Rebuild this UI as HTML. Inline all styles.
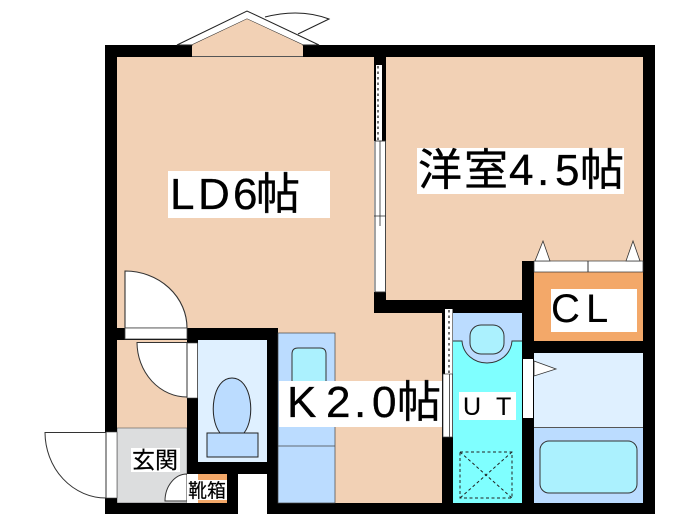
<!DOCTYPE html>
<html><head><meta charset="utf-8"><style>
html,body{margin:0;padding:0;background:#fff}
svg{display:block;filter:blur(.35px)}
text{font-family:"Liberation Sans","Noto Sans CJK JP",sans-serif;fill:#000;stroke:#000;stroke-width:.35}
</style></head><body>
<svg width="700" height="525" viewBox="0 0 700 525" xmlns="http://www.w3.org/2000/svg">
<rect width="700" height="525" fill="#fff"/>
<!-- floors -->
<rect x="117" y="57" width="257" height="271" fill="#f2d1b5"/>
<rect x="386" y="57" width="257" height="243" fill="#f2d1b5"/>
<rect x="187" y="300" width="255" height="203" fill="#f2d1b5"/>
<rect x="117" y="328" width="70" height="100" fill="#f2d1b5"/>
<rect x="117" y="428" width="70" height="75" fill="#dcddde" stroke="#555" stroke-width=".6"/>
<!-- walls -->
<g fill="#000">
<rect x="105" y="45" width="550" height="12"/>
<rect x="105" y="45" width="12" height="469"/>
<rect x="643" y="45" width="12" height="469"/>
<rect x="105" y="503" width="133" height="11"/>
<rect x="267" y="503" width="388" height="11"/>
<rect x="374" y="45" width="12" height="96"/>
<rect x="374" y="292" width="12" height="21"/>
<rect x="374" y="300" width="160" height="13"/>
<rect x="442" y="300" width="11" height="214"/>
<rect x="522" y="261" width="12" height="253"/>
<rect x="534" y="341" width="110" height="12"/>
<rect x="105" y="328" width="173" height="12"/>
<rect x="187" y="328" width="11" height="146"/>
<rect x="267" y="328" width="11" height="186"/>
<rect x="187" y="462" width="80" height="12"/>
<rect x="227" y="462" width="11" height="52"/>
</g>
<rect x="238" y="474" width="29" height="40" fill="#fff"/>
<!-- bay window -->
<rect x="192" y="45" width="111" height="12" fill="#f2d1b5"/>
<path d="M298,34 L329,19 Q300,8 265,17" fill="none" stroke="#222" stroke-width="1"/>
<polygon points="177,45 247,11 319,45 303,45 247,19 192,45" fill="#fff" stroke="#222" stroke-width="1"/>
<polygon points="192,45 247,19 303,45" fill="#f2d1b5"/>
<rect x="192" y="56" width="111" height="1" fill="#555"/>
<!-- sliding door LD / western room -->
<rect x="376" y="65" width="6" height="76" fill="#fff"/>
<line x1="378" y1="66" x2="378" y2="140" stroke="#222" stroke-width="1.300" stroke-dasharray="2.500 3"/>
<rect x="375" y="141" width="10.500" height="151" fill="#fff" stroke="#333" stroke-width=".9"/>
<line x1="380" y1="141" x2="380" y2="226" stroke="#444" stroke-width=".9"/>
<line x1="374" y1="216" x2="386" y2="216" stroke="#333" stroke-width=".8"/>
<!-- LD door -->
<path d="M125,328 V271 A62,57 0 0 1 187,328 Z" fill="#fff" stroke="#333" stroke-width="1.100"/>
<rect x="125" y="328" width="62" height="11" fill="#fff" stroke="#444" stroke-width=".8"/>
<!-- inner hall door -->
<rect x="187" y="343" width="10.500" height="55" fill="#fff" stroke="#444" stroke-width=".6"/>
<path d="M187,342.500 H137 A50,55 0 0 0 187,397 Z" fill="#fff" stroke="#333" stroke-width="1"/>
<!-- toilet -->
<rect x="198" y="340" width="69" height="122" fill="#dff0ff"/>
<path d="M220,433 C208,418 212,378 232,378 C252,378 256,418 244,433 Z" fill="#bbdcff" stroke="#222" stroke-width="1"/>
<rect x="207" y="433" width="51" height="24" fill="#bbdcff" stroke="#222" stroke-width="1"/>
<!-- kitchen -->
<rect x="278" y="333" width="57" height="170" fill="#bbdcff" stroke="#444" stroke-width=".7"/>
<line x1="278" y1="446" x2="335" y2="446" stroke="#444" stroke-width=".8"/>
<path d="M292,385 V354 Q292,348 298,348 H320 Q326,348 326,354 V385 Z" fill="#abf1fe" stroke="#333" stroke-width="1"/>
<rect x="279" y="381" width="163" height="46" fill="#fff"/>
<!-- entrance -->
<rect x="106" y="432" width="11" height="66" fill="#fff" stroke="#444" stroke-width=".6"/>
<path d="M106,432.500 H45 A61,66 0 0 0 106,498 Z" fill="#fff" stroke="#333" stroke-width="1"/>
<rect x="131" y="448" width="49" height="24" fill="#fff"/>
<text x="132" y="468" font-size="23" style="stroke-width:.2">玄関</text>
<!-- shoe box -->
<rect x="198" y="474" width="29" height="29" fill="#f3a869"/>
<path d="M187,474 A22,27 0 0 0 165,501 H187 Z" fill="#fff" stroke="#333" stroke-width="1"/>
<rect x="187" y="474" width="11" height="29" fill="#fff"/>
<rect x="187" y="480" width="40" height="20" fill="#fff"/>
<text x="188" y="497" font-size="19" textLength="38" lengthAdjust="spacingAndGlyphs" style="stroke-width:.15">靴箱</text>
<!-- UT -->
<rect x="453" y="313" width="69" height="190" fill="#7fffff"/>
<path d="M453,313 H522 V341 H512 C511,354 500,363 487,363 C474,363 463,354 462,341 H453 Z" fill="#bbdcff"/>
<path d="M453,341 H462 C463,354 474,363 487,363 C500,363 511,354 512,341 H522" fill="none" stroke="#333" stroke-width="1"/>
<rect x="470" y="325" width="34" height="29" rx="11" fill="#abf1fe" stroke="#333" stroke-width="1"/>
<rect x="459" y="392" width="57" height="28" fill="#fff"/>
<text x="463" y="415" font-size="25" style="stroke-width:.1">U</text>
<text x="496" y="415" font-size="25" style="stroke-width:.1">T</text>
<g fill="none" stroke="#222" stroke-width="1" stroke-dasharray="3 2.500">
<rect x="460" y="452" width="52" height="46"/>
<path d="M460,452 L512,498 M512,452 L460,498"/>
</g>
<!-- UT door -->
<rect x="445" y="309" width="7.500" height="65" fill="#fff"/>
<line x1="449" y1="310" x2="449" y2="373" stroke="#222" stroke-width="1.300" stroke-dasharray="2.500 3"/>
<rect x="443" y="374" width="9.500" height="63" fill="#fff" stroke="#444" stroke-width=".7"/>
<line x1="449.500" y1="374" x2="449.500" y2="437" stroke="#444" stroke-width=".9"/>
<!-- closet -->
<rect x="534" y="272" width="109" height="69" fill="#f3a869"/>
<rect x="534" y="261" width="109" height="11" fill="#fff" stroke="#333" stroke-width=".7"/>
<line x1="588" y1="261" x2="588" y2="272" stroke="#333" stroke-width="1"/>
<rect x="551" y="289" width="86" height="43" fill="#fff"/>
<text x="551" y="322" font-size="40" style="stroke-width:.1">C</text>
<text x="586" y="322" font-size="40" style="stroke-width:.1">L</text>
<polygon points="535,261 543,241 550,261" fill="#fff" stroke="#333" stroke-width=".8"/>
<polygon points="626,261 633,241 640,261" fill="#fff" stroke="#333" stroke-width=".8"/>
<!-- bath -->
<rect x="534" y="353" width="109" height="74" fill="#dff0ff"/>
<rect x="534" y="428" width="109" height="75" fill="#bbdcff"/>
<line x1="534" y1="427.500" x2="643" y2="427.500" stroke="#555" stroke-width="1"/>
<rect x="540" y="441" width="97" height="52" rx="9" fill="#abf1fe" stroke="#333" stroke-width="1"/>
<rect x="523" y="359" width="10" height="59" fill="#fff"/>
<polygon points="534,361 556,369 534,376" fill="#fff" stroke="#333" stroke-width=".8"/>
<!-- labels -->
<rect x="168" y="171" width="162" height="47" fill="#fff"/>
<text x="170 198 233 256" y="209" font-size="44">LD6帖</text>
<rect x="417" y="148" width="207" height="46" fill="#fff"/>
<text x="418 464 509 537 555 580" y="185" font-size="44">洋室4.5帖</text>
<text x="287 326 354 372 397" y="417" font-size="44">K2.0帖</text>
</svg>
</body></html>
